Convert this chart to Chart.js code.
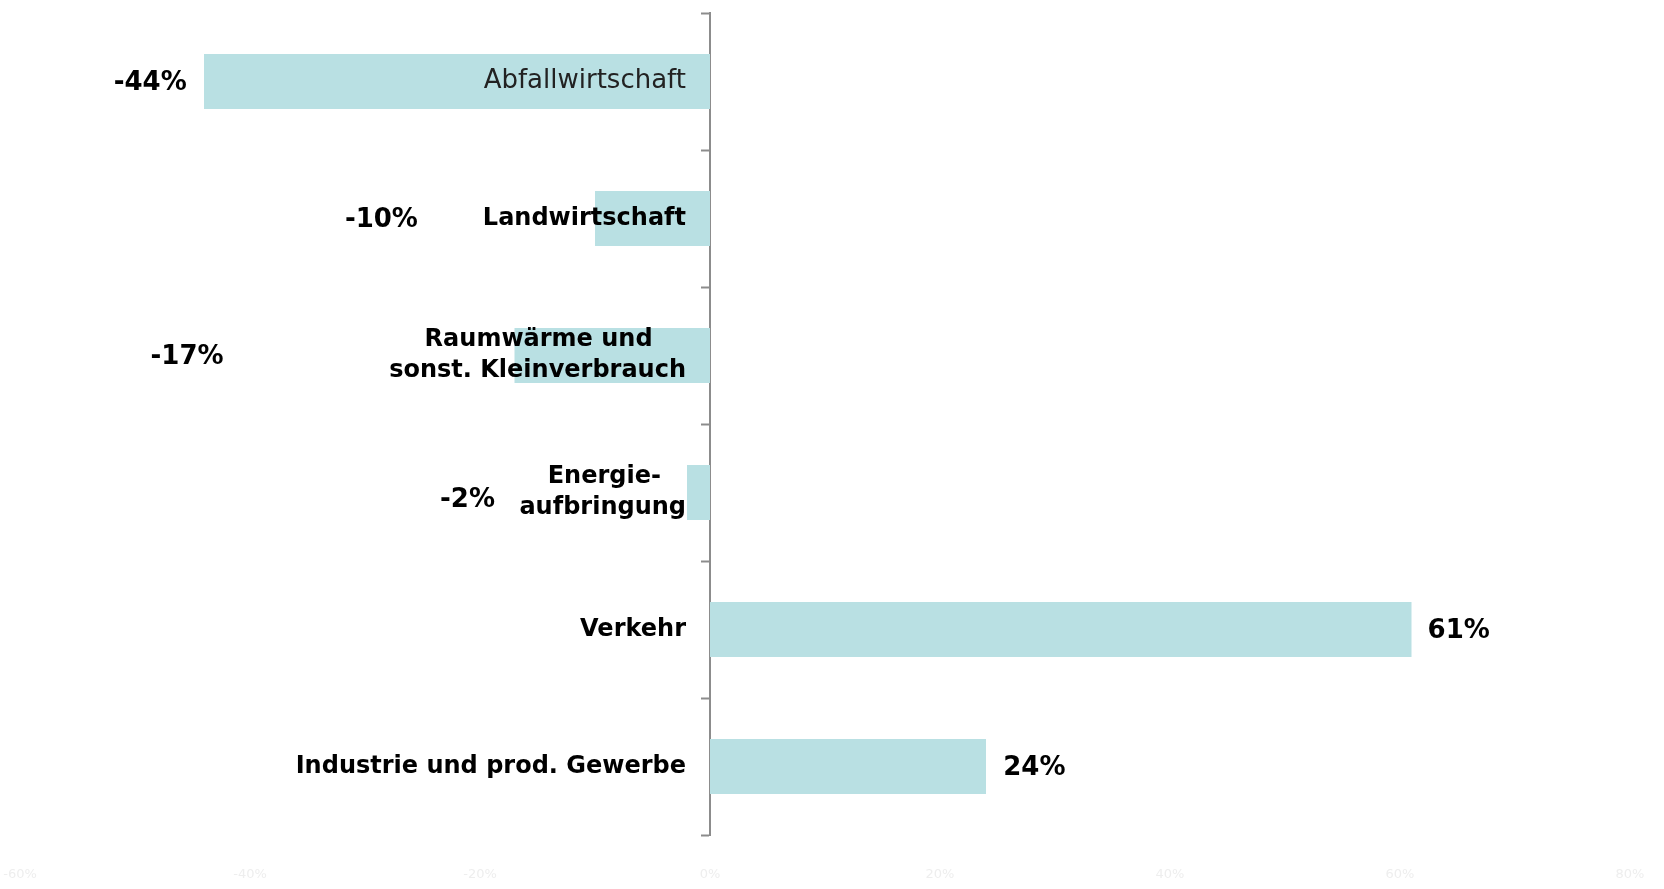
<!doctype html>
<html lang="de">
<head>
    <meta charset="utf-8">
    <title>Veränderung der Emissionen nach Sektoren</title>
    <script src="https://cdn.jsdelivr.net/npm/chart.js@4/dist/chart.umd.min.js"></script>
    <style>
        html, body { margin: 0; padding: 0; background: #fff; }
        #wrap { width: 1664px; height: 889px; }
    </style>
</head>
<body>
<div id="wrap"><canvas id="chart1"></canvas></div>
<script>
    // Sektoren (mehrzeilige Beschriftungen als Arrays)
    const categories = [
        'Abfallwirtschaft',
        'Landwirtschaft',
        ['Raumwärme und    ', 'sonst. Kleinverbrauch'],
        ['Energie-   ', 'aufbringung'],
        'Verkehr',
        'Industrie und prod. Gewerbe'
    ];
    // Veränderung in %
    const changes = [-44, -10, -17, -2, 61, 24];
    // wo die Prozent-Beschriftung sitzt (Wert auf der x-Achse)
    const labelAt = [-45.5, -25.4, -42.3, -18.7, 62.4, 25.5];
    const axisMin = -60, axisMax = 80, axisStep = 20;

    const barColor = '#b9e0e3';

    // Prozentwerte neben die Balken schreiben
    const valueLabels = {
        id: 'valueLabels',
        afterLayout(chart) {
            // Achse sitzt bei x=0, Beschriftung etwas links davon
            chart.scales.y.getLabelItems().forEach(item => {
                item.options.translation[0] -= 24;
            });
        },
        afterDatasetsDraw(chart) {
            const ctx = chart.ctx;
            const x = chart.scales.x;
            const meta = chart.getDatasetMeta(0);
            ctx.save();
            ctx.font = 'bold 26px "DejaVu Sans"';
            ctx.fillStyle = '#000';
            ctx.textBaseline = 'middle';
            changes.forEach((v, i) => {
                ctx.textAlign = v < 0 ? 'right' : 'left';
                ctx.fillText(v + '%', x.getPixelForValue(labelAt[i]), meta.data[i].y + (i === 3 ? 8 : 2));
            });
            ctx.restore();
        }
    };

    function noPadding(s) {
        s.paddingTop = 0;
        s.paddingBottom = 0;
        s.paddingLeft = 0;
        s.paddingRight = 0;
    }

    new Chart(document.getElementById('chart1').getContext('2d'), {
        type: 'bar',
        data: {
            labels: categories,
            datasets: [{
                data: changes,
                backgroundColor: barColor,
                borderWidth: 0,
                barPercentage: 0.4,
                categoryPercentage: 1
            }]
        },
        options: {
            indexAxis: 'y',
            responsive: true,
            maintainAspectRatio: false,
            animation: false,
            layout: {
                padding: {top: 13, left: 20, right: 34, bottom: 0}
            },
            plugins: {
                legend: {display: false},
                tooltip: {enabled: false}
            },
            scales: {
                x: {
                    min: axisMin,
                    max: axisMax,
                    grid: {display: false},
                    border: {display: false},
                    ticks: {
                        stepSize: axisStep,
                        color: '#eeeeee',
                        font: {family: 'DejaVu Sans', size: 13},
                        padding: 24,
                        callback: v => v + '%'
                    },
                    afterFit: s => { noPadding(s); s.height = 54; }
                },
                y: {
                    position: {x: 0},
                    grid: {
                        display: true,
                        drawOnChartArea: false,
                        drawTicks: true,
                        tickLength: 8,
                        tickWidth: 2,
                        color: '#8c8c8c',
                        offset: true
                    },
                    border: {display: true, color: '#8c8c8c', width: 2},
                    ticks: {
                        z: 1,
                        color: ctx => ctx.index === 0 ? '#222' : '#000',
                        autoSkip: false,
                        font: ctx => ctx.index === 0
                            ? {family: 'DejaVu Sans', size: 26, weight: 'normal', lineHeight: 1.3}
                            : {family: 'DejaVu Sans', size: 24, weight: 'bold', lineHeight: 1.3}
                    },
                    afterFit: noPadding
                }
            }
        },
        plugins: [valueLabels]
    });
</script>
</body>
</html>
